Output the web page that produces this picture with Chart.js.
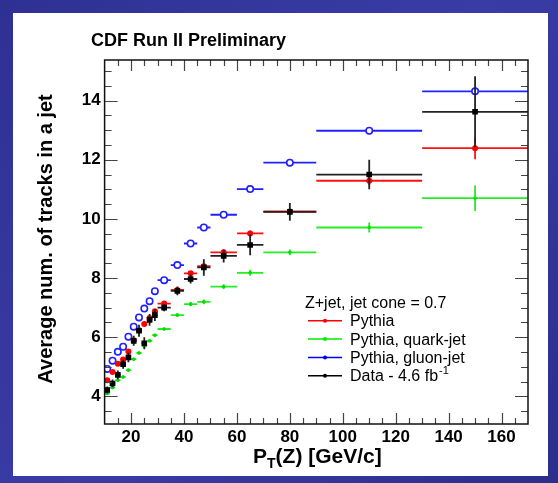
<!DOCTYPE html>
<html><head><meta charset="utf-8">
<script src="https://cdn.jsdelivr.net/npm/chart.js@4/dist/chart.umd.min.js"></script>
<style>html,body{margin:0;padding:0;background:#3436a0;overflow:hidden}</style>
</head><body>
<canvas id="c" width="558" height="483" style="display:block;width:558px;height:483px"></canvas>
<script>
// ---- data ----
const binLow    = [10,12,14,16,18,20,22,24,26,28,30,35,40,45,50,60,70,90,130];
const binHigh   = [12,14,16,18,20,22,24,26,28,30,35,40,45,50,60,70,90,130,170];
const binCenter = [11,13,15,17,19,21,23,25,27,29,32.5,37.5,42.5,47.5,55,65,80,110,150];
const pythia      = [4.55,4.83,5.11,5.25,5.52,5.90,6.24,6.45,6.65,6.88,7.14,7.60,8.16,8.40,8.87,9.51,10.25,11.29,12.39];
const pythiaErr   = [0.05,0.05,0.05,0.05,0.05,0.05,0.05,0.05,0.05,0.05,0.05,0.06,0.07,0.08,0.08,0.1,0.1,0.15,0.37];
const pythiaQuark = [4.10,4.30,4.55,4.66,4.89,5.26,5.47,5.70,5.88,6.07,6.28,6.75,7.12,7.20,7.71,8.18,8.87,9.71,10.70];
const quarkErr    = [0.05,0.05,0.05,0.05,0.05,0.05,0.05,0.05,0.05,0.05,0.05,0.06,0.07,0.08,0.08,0.1,0.1,0.17,0.43];
const pythiaGluon = [4.93,5.21,5.51,5.68,6.02,6.36,6.67,6.97,7.22,7.56,7.93,8.44,9.17,9.71,10.14,11.01,11.90,12.98,14.31];
const gluonErr    = [0.04,0.04,0.04,0.04,0.04,0.04,0.04,0.04,0.04,0.04,0.05,0.05,0.06,0.07,0.07,0.08,0.08,0.12,0.12];
const dataVals    = [4.22,4.44,4.73,5.09,5.32,5.88,6.22,5.80,6.59,6.75,7.00,7.57,7.97,8.36,8.75,9.12,10.24,11.50,13.62];
const dataErr     = [0.12,0.13,0.15,0.15,0.16,0.17,0.2,0.2,0.2,0.2,0.12,0.15,0.15,0.28,0.22,0.35,0.3,0.5,1.2];
const xTickLabels = [20,40,60,80,100,120,140,160];
const yTickLabels = [4,6,8,10,12,14];
const xMinorTicks = [15,25,30,35,45,50,55,65,70,75,85,90,95,105,110,115,125,130,135,145,150,155,165];
const yMinorTicks = [3.5,4.5,5,5.5,6.5,7,7.5,8.5,9,9.5,10.5,11,11.5,12.5,13,13.5,14.5,15];
const legendHeader = 'Z+jet, jet cone = 0.7';
const seriesNames = ['Pythia','Pythia, quark-jet','Pythia, gluon-jet','Data - 4.6 fb'];

const pts = v => binCenter.map((x,i)=>({x:x, y:v[i]}));
const FONT = '"Liberation Sans", Arial, sans-serif';

const rootPlugin = {
  id:'root',
  beforeDraw(chart){
    const c = chart.ctx;
    const g = c.createLinearGradient(0,0,558,483);
    g.addColorStop(0,'#2e3192'); g.addColorStop(0.5,'#3a3ca6'); g.addColorStop(1,'#2b2e8c');
    c.save(); c.fillStyle = g; c.fillRect(0,0,558,483);
    c.fillStyle = '#ffffff'; c.fillRect(13,13,535,463);
    c.restore();
  },
  beforeDatasetDraw(chart, args){
    const ds = chart.data.datasets[args.index];
    const xs = chart.scales.x, ys = chart.scales.y, c = chart.ctx, a = chart.chartArea;
    c.save();
    c.beginPath(); c.rect(a.left,a.top,a.right-a.left,a.bottom-a.top); c.clip();
    c.strokeStyle = ds.errColor; c.lineWidth = 1.8;
    ds.vals.forEach((v,i)=>{
      const x1 = xs.getPixelForValue(binLow[i]), x2 = xs.getPixelForValue(binHigh[i]);
      const xc = xs.getPixelForValue(binCenter[i]);
      const y = ys.getPixelForValue(v);
      const yt = ys.getPixelForValue(v+ds.errs[i]), yb = ys.getPixelForValue(v-ds.errs[i]);
      c.beginPath(); c.moveTo(x1,y); c.lineTo(x2,y); c.stroke();
      c.beginPath(); c.moveTo(xc,yt); c.lineTo(xc,yb); c.stroke();
    });
    c.restore();
  },
  afterDraw(chart){
    const c = chart.ctx, a = chart.chartArea, xs = chart.scales.x, ys = chart.scales.y;
    c.save();
    // ticks (inward, all four sides)
    c.strokeStyle = '#444'; c.lineWidth = 1.2;
    const vt = (v,len)=>{ const x = Math.round(xs.getPixelForValue(v))+0.5;
      c.beginPath(); c.moveTo(x,a.bottom); c.lineTo(x,a.bottom-len); c.moveTo(x,a.top); c.lineTo(x,a.top+len); c.stroke(); };
    const ht = (v,len)=>{ const y = Math.round(ys.getPixelForValue(v))+0.5;
      c.beginPath(); c.moveTo(a.left,y); c.lineTo(a.left+len,y); c.moveTo(a.right,y); c.lineTo(a.right-len,y); c.stroke(); };
    xTickLabels.forEach(v=>vt(v,11)); xMinorTicks.forEach(v=>vt(v,6));
    yTickLabels.forEach(v=>ht(v,13)); yMinorTicks.forEach(v=>ht(v,7));
    // frame
    c.strokeStyle = '#111'; c.lineWidth = 1.5;
    c.strokeRect(a.left, a.top, a.right-a.left, a.bottom-a.top);
    // title
    c.fillStyle = '#000'; c.textBaseline = 'alphabetic'; c.textAlign = 'left';
    c.font = 'bold 18px ' + FONT;
    c.fillText('CDF Run II Preliminary', 91, 45.5, 204);
    // x title
    let x = 253; const by = 463;
    c.font = 'bold 21px ' + FONT; c.fillText('P', x, by); x += c.measureText('P').width;
    c.font = 'bold 14px ' + FONT; c.fillText('T', x, by+5); x += c.measureText('T').width;
    c.font = 'bold 21px ' + FONT; c.fillText('(Z) [GeV/c]', x, by);
    // y title
    c.save(); c.translate(52, 239); c.rotate(-Math.PI/2);
    c.textAlign = 'center'; c.font = 'bold 20px ' + FONT;
    c.fillText('Average num. of tracks in a jet', 0, 0, 342);
    c.restore();
    // legend
    c.font = '16px ' + FONT; c.textAlign = 'left';
    c.fillText(legendHeader, 305, 308.3);
    const cols = ['#ff0000','#00ee00','#0000ff','#000000'];
    const base = [326.3,344.6,362.9,381.2];
    seriesNames.forEach((n,i)=>{
      const ly = base[i]-5.5;
      c.strokeStyle = cols[i]; c.lineWidth = 1.5;
      c.beginPath(); c.moveTo(308,ly); c.lineTo(342,ly); c.stroke();
      c.fillStyle = cols[i]; c.beginPath(); c.arc(325,ly,2,0,Math.PI*2); c.fill();
      c.fillStyle = '#000'; c.font = '16px ' + FONT;
      c.fillText(n, 350, base[i]);
      if (i===3){ const w = c.measureText(n).width; c.font = '11px ' + FONT; c.fillText('-1', 350+w+1, base[i]-7); }
    });
    c.restore();
  }
};

const tickFont = {family: FONT, weight:'bold', size:17};
new Chart(document.getElementById('c'), {
  type:'scatter',
  data:{datasets:[
    {label:'Data', data:pts(dataVals), vals:dataVals, errs:dataErr, errColor:'#222',
     pointStyle:'rect', pointRadius:4, backgroundColor:'#000', borderColor:'#000', borderWidth:0, order:1},
    {label:'Pythia', data:pts(pythia), vals:pythia, errs:pythiaErr, errColor:'#ff1010',
     pointStyle:'circle', pointRadius:3, backgroundColor:'#ff0000', borderColor:'#ff0000', borderWidth:0, order:2},
    {label:'Pythia, quark-jet', data:pts(pythiaQuark), vals:pythiaQuark, errs:quarkErr, errColor:'#22ee22',
     pointStyle:'circle', pointRadius:1.8, backgroundColor:'#00dd00', borderColor:'#00dd00', borderWidth:0, order:3},
    {label:'Pythia, gluon-jet', data:pts(pythiaGluon), vals:pythiaGluon, errs:gluonErr, errColor:'#2222ff',
     pointStyle:'circle', pointRadius:3.2, backgroundColor:'#ffffff', borderColor:'#2020ff', borderWidth:1.6, order:4}
  ]},
  options:{
    responsive:false, animation:false, devicePixelRatio:1,
    layout:{padding:{left:20, top:60, right:30, bottom:0}},
    plugins:{legend:{display:false}, tooltip:{enabled:false}, title:{display:false}},
    scales:{
      x:{type:'linear', min:10, max:170,
         afterFit:s=>{s.height=59;},
         afterBuildTicks:s=>{s.ticks = xTickLabels.map(v=>({value:v}));},
         grid:{display:false, drawTicks:false, tickLength:0}, border:{display:false},
         ticks:{font:tickFont, color:'#000', padding:3, maxRotation:0, autoSkip:false}},
      y:{type:'linear', min:3.07, max:15.37,
         afterFit:s=>{s.width=84.6;},
         afterBuildTicks:s=>{s.ticks = yTickLabels.map(v=>({value:v}));},
         grid:{display:false, drawTicks:false, tickLength:0}, border:{display:false},
         ticks:{font:tickFont, color:'#000', padding:4, autoSkip:false}}
    }
  },
  plugins:[rootPlugin]
});
</script>
</body></html>
